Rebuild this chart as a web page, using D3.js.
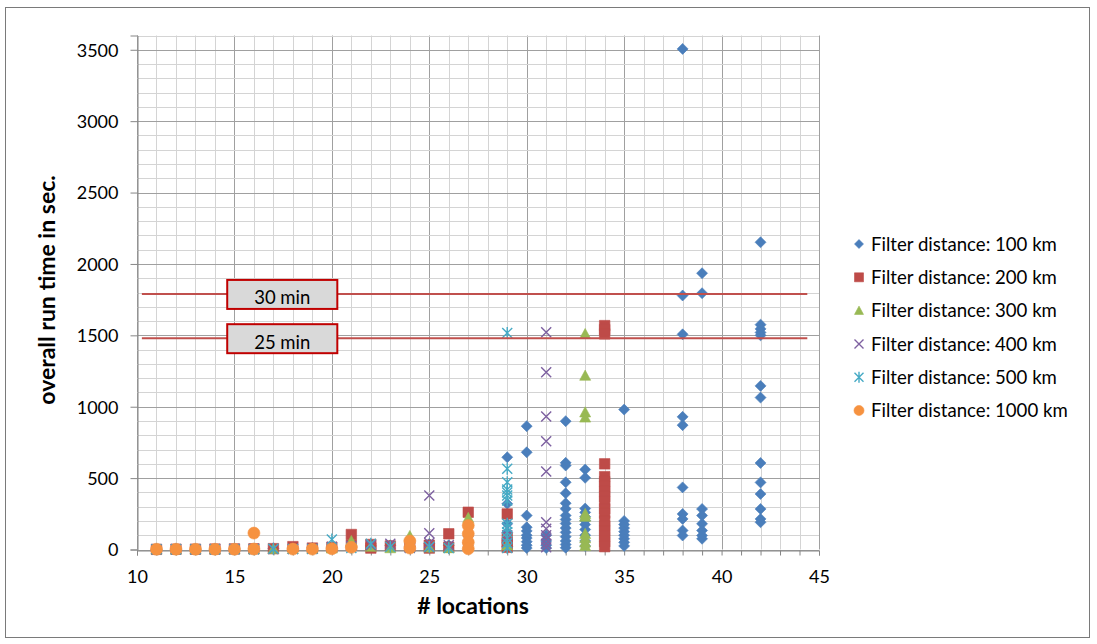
<!DOCTYPE html>
<html><head><meta charset="utf-8">
<script src="https://cdn.jsdelivr.net/npm/d3@7"></script>
<style>
body{margin:0;background:#fff;}
svg text{font-family:Lato,"Open Sans",sans-serif;fill:#000;}
</style></head><body>
<svg id="c" width="1097" height="644"></svg>
<script>
// ---------- data ----------
const seriesNames = ["Filter distance: 100 km","Filter distance: 200 km","Filter distance: 300 km","Filter distance: 400 km","Filter distance: 500 km","Filter distance: 1000 km"];
const xTickLabels = [10,15,20,25,30,35,40,45];
const yTickLabels = [0,500,1000,1500,2000,2500,3000,3500];

const km100 = [
 [11,2],[12,3],[13,3],[14,4],[15,5],[16,6],[17,8],[18,10],[19,12],[20,15],[21,20],[22,25],[23,30],[24,20],[25,40],[26,30],[27,45],
 [29,646],[29,320],[29,180],[29,120],[29,60],[29,20],
 [30,864],[30,681],[30,238],[30,156],[30,130],[30,100],[30,80],[30,55],[30,30],[30,10],
 [31,100],[31,60],[31,30],[31,10],
 [32,899],[32,607],[32,588],[32,471],[32,394],[32,324],[32,285],[32,238],[32,210],[32,182],[32,150],[32,120],[32,90],[32,60],[32,35],[32,12],
 [33,560],[33,502],[33,287],[33,260],[33,230],[33,203],[33,175],[33,140],[33,100],[33,60],[33,25],
 [35,980],[35,200],[35,175],[35,150],[35,125],[35,100],[35,75],[35,50],[35,25],
 [38,3506],[38,1779],[38,1507],[38,929],[38,871],[38,435],[38,249],[38,214],[38,133],[38,98],
 [39,1935],[39,1795],[39,284],[39,238],[39,180],[39,133],[39,98],[39,75],
 [42,2152],[42,1575],[42,1545],[42,1520],[42,1500],[42,1146],[42,1064],[42,606],[42,470],[42,389],[42,284],[42,214],[42,191]
];
const km200 = [
 [11,1],[12,2],[13,2],[14,3],[15,4],[16,5],[17,6],[18,20],[19,10],[20,15],[21,105],[21,30],[22,35],[22,10],[23,25],[24,20],[25,30],[25,10],[26,110],[26,16],[27,261],
 [29,249],[29,80],[29,45],[29,15],
 [34,1568],[34,1540],[34,1510],[34,600],[34,510],[34,475],[34,440],[34,405],[34,370],[34,335],[34,285],[34,255],[34,200],[34,165],[34,130],[34,90],[34,55],[34,20]
];
const km300 = [
 [11,1],[12,1],[13,2],[14,2],[15,3],[16,3],[17,4],[18,5],[19,6],[20,8],[21,60],[22,20],[23,10],[24,95],[25,15],[26,10],[27,222],[27,30],
 [29,30],
 [33,1510],[33,1218],[33,961],[33,925],[33,250],[33,230],[33,110],[33,80],[33,50],[33,25]
];
const km400 = [
 [11,1],[12,1],[13,2],[14,2],[15,3],[16,3],[17,4],[18,4],[19,5],[20,20],[21,25],[22,30],[23,40],[24,10],[25,378],[25,114],[25,45],[25,15],[26,30],[27,60],
 [29,100],
 [31,1522],[31,1242],[31,931],[31,759],[31,546],[31,191],[31,145],[31,100],[31,70],[31,40],[31,15]
];
const km500 = [
 [11,1],[12,1],[13,1],[14,2],[15,2],[16,2],[17,5],[18,3],[19,4],[20,70],[21,10],[22,40],[23,20],[24,15],[25,20],[26,10],[27,30],
 [29,1517],[29,565],[29,471],[29,420],[29,400],[29,378],[29,343],[29,180],[29,156],[29,120],[29,80],[29,45],[29,10]
];
const km1000 = [
 [11,2],[12,2],[13,2],[14,2],[15,2],[16,115],[16,3],[18,3],[19,3],[20,5],[21,15],[24,60],[24,10],[27,168],[27,110],[27,51],[27,5]
];
const refLabels = ["30 min","25 min"];
const refValues = [1790,1480];

// ---------- styles ----------
const seriesData = [km100,km200,km300,km400,km500,km1000];
const seriesColors = ["#4a7ebb","#be4b48","#98b954","#7d60a0","#46aac5","#f69240"];
const seriesShapes = ["diamond","square","triangle","x","star","circle"];

const svg = d3.select("#c");
svg.append("rect").attr("x",5.5).attr("y",7.5).attr("width",1084).attr("height",630)
  .attr("fill","#fff").attr("stroke","#7a7a7a").attr("stroke-width",1);

const x = d3.scaleLinear().domain([10,45]).range([137,819]);
const y = d3.scaleLinear().domain([0,3600]).range([549.5,35.5]);
const px = v => Math.round(x(v))+0.5;
const py = v => Math.round(y(v))+0.5;

// grid
const grid = svg.append("g");
const xMinor = d3.range(10,46);
const yMinor = d3.range(0,3601,100);
grid.selectAll(".vx").data(xMinor).join("line")
  .attr("x1",d=>px(d)).attr("x2",d=>px(d)).attr("y1",y(3600)).attr("y2",y(0))
  .attr("stroke",d=>d%5===0?"#a0a0a0":"#d4d4d4").attr("stroke-width",1);
grid.selectAll(".hy").data(yMinor).join("line")
  .attr("y1",d=>py(d)).attr("y2",d=>py(d)).attr("x1",x(10)).attr("x2",x(45))
  .attr("stroke",d=>d%500===0?"#a0a0a0":"#d4d4d4").attr("stroke-width",1);

// axes
const yAxis = d3.axisLeft(y).tickValues(yTickLabels).tickSize(7).tickPadding(12).tickFormat(d3.format("d"));
const gy = svg.append("g").attr("transform",`translate(${px(10)},0)`).call(yAxis);
gy.selectAll("text").attr("font-size",18).attr("dy","0.35em");
gy.selectAll("line").attr("stroke","#868686");
gy.select(".domain").attr("stroke","#868686");

const xAxis = d3.axisBottom(x).tickValues(d3.range(10,46)).tickSize(5).tickPadding(15)
  .tickFormat(d=>xTickLabels.includes(d)?d:"");
const gx = svg.append("g").attr("transform",`translate(0,${py(0)})`).call(xAxis);
gx.selectAll("text").attr("font-size",18);
gx.selectAll("line").attr("stroke","#868686");
gx.select(".domain").attr("stroke","#868686");

// axis titles
svg.append("text").attr("transform","translate(55,290) rotate(-90)").attr("text-anchor","middle")
  .attr("font-size",23).attr("font-weight","bold").text("overall run time in sec.");
svg.append("text").attr("x",473).attr("y",614).attr("text-anchor","middle")
  .attr("font-size",23).attr("font-weight","bold").text("# locations");

// markers
function markerPath(shape, s){
  const h=s/2;
  switch(shape){
    case "diamond": return `M0,${-h}L${h},0L0,${h}L${-h},0Z`;
    case "square": return `M${-h},${-h}h${s}v${s}h${-s}Z`;
    case "triangle": return `M0,${-h}L${h},${h*0.85}L${-h},${h*0.85}Z`;
    case "x": return `M${-h},${-h}L${h},${h}M${h},${-h}L${-h},${h}`;
    case "star": return `M${-h},${-h}L${h},${h}M${h},${-h}L${-h},${h}M0,${-h-1}L0,${h+1}`;
    case "circle": return d3.arc()({innerRadius:0,outerRadius:h,startAngle:0,endAngle:2*Math.PI});
  }
}
const markerSize = {diamond:11,square:10.5,triangle:11,x:10,star:10,circle:12};
function styleMarker(sel, i){
  const shape=seriesShapes[i], c=seriesColors[i];
  if(shape==="x"||shape==="star"){
    sel.attr("fill","none").attr("stroke",c).attr("stroke-width",1.4);
  } else {
    sel.attr("fill",c).attr("stroke",c).attr("stroke-width",0.6);
  }
}
seriesData.forEach((data,i)=>{
  const g=svg.append("g");
  g.selectAll("path").data(data).join("path")
    .attr("transform",d=>`translate(${x(d[0])},${y(d[1])})`)
    .attr("d",markerPath(seriesShapes[i],markerSize[seriesShapes[i]]))
    .call(styleMarker,i);
});

// reference lines & boxes
const refG = svg.append("g");
refValues.forEach((v,i)=>{
  refG.append("line").attr("x1",x(10.25)).attr("x2",x(44.4)).attr("y1",y(v)).attr("y2",y(v))
    .attr("stroke","#c0504d").attr("stroke-width",2);
});
refValues.forEach((v,i)=>{
  const cx=(x(14.63)+x(20.28))/2;
  refG.append("rect").attr("x",x(14.63)).attr("width",x(20.28)-x(14.63))
    .attr("y",y(v)-14).attr("height",29).attr("fill","#d9d9d9").attr("stroke","#c00000").attr("stroke-width",2);
  refG.append("text").attr("x",cx).attr("y",y(v)+10.5).attr("text-anchor","middle").attr("font-size",18.5).text(refLabels[i]);
});

// legend
const leg = svg.append("g");
seriesNames.forEach((name,i)=>{
  const yy = 244 + i*33.3;
  const m = leg.append("path").attr("transform",`translate(859,${yy})`)
    .attr("d",markerPath(seriesShapes[i],seriesShapes[i]==="circle"?10:9));
  styleMarker(m,i);
  leg.append("text").attr("x",871).attr("y",yy).attr("dy","0.36em").attr("font-size",18.6).text(name);
});
</script>
</body></html>
